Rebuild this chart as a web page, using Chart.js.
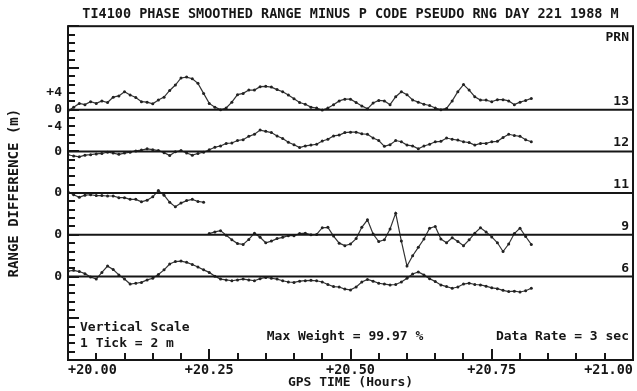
<!DOCTYPE html>
<html>
<head>
<meta charset="utf-8">
<script src="https://cdn.jsdelivr.net/npm/chart.js@4.4.1/dist/chart.umd.min.js"></script>
<style>
  html, body { margin: 0; padding: 0; background: #fff; }
  #wrap { width: 637px; height: 391px; }
</style>
</head>
<body>
<div id="wrap"><canvas id="c" width="637" height="391"></canvas></div>
<script>
// GPS time grid (hours), one reading every 0.01 h
var times = [20.00,20.01,20.02,20.03,20.04,20.05,20.06,20.07,20.08,20.09,
             20.10,20.11,20.12,20.13,20.14,20.15,20.16,20.17,20.18,20.19,
             20.20,20.21,20.22,20.23,20.24,20.25,20.26,20.27,20.28,20.29,
             20.30,20.31,20.32,20.33,20.34,20.35,20.36,20.37,20.38,20.39,
             20.40,20.41,20.42,20.43,20.44,20.45,20.46,20.47,20.48,20.49,
             20.50,20.51,20.52,20.53,20.54,20.55,20.56,20.57,20.58,20.59,
             20.60,20.61,20.62,20.63,20.64,20.65,20.66,20.67,20.68,20.69,
             20.70,20.71,20.72,20.73,20.74,20.75,20.76,20.77,20.78,20.79,
             20.80,20.81,20.82];

// range difference (m) per satellite, relative to its own zero line
var prn13 = [-0.3, 0.6, 1.5, 1.2, 1.9, 1.5, 2.1, 1.7, 3.0, 3.3,
              4.3, 3.5, 2.9, 1.9, 1.8, 1.4, 2.3, 3.0, 4.6, 5.9,
              7.6, 7.8, 7.4, 6.3, 3.9, 1.5, 0.6, 0.0, 0.4, 1.8,
              3.6, 3.9, 4.7, 4.7, 5.5, 5.6, 5.4, 4.8, 4.3, 3.5,
              2.6, 1.7, 1.3, 0.6, 0.4, -0.1, 0.4, 1.2, 2.1, 2.5,
              2.5, 1.7, 0.9, 0.2, 1.6, 2.2, 2.1, 1.2, 3.1, 4.3,
              3.6, 2.3, 1.8, 1.3, 1.0, 0.4, 0.0, 0.3, 2.1, 4.3,
              6.0, 4.7, 3.1, 2.3, 2.3, 1.9, 2.4, 2.4, 2.1, 1.2,
              1.8, 2.2, 2.7];
var prn12 = [-0.8, -1.1, -1.3, -0.9, -0.8, -0.6, -0.5, -0.2, -0.4, -0.7,
             -0.4, -0.2, 0.1, 0.3, 0.6, 0.4, 0.2, -0.3, -1.0, -0.1,
              0.2, -0.4, -0.9, -0.5, -0.2, 0.4, 1.0, 1.3, 1.9, 2.0,
              2.6, 2.8, 3.6, 4.1, 5.1, 4.8, 4.5, 3.7, 3.1, 2.2,
              1.6, 0.9, 1.3, 1.5, 1.7, 2.5, 2.9, 3.7, 3.9, 4.5,
              4.6, 4.6, 4.2, 4.1, 3.2, 2.6, 1.2, 1.6, 2.6, 2.3,
              1.5, 1.3, 0.6, 1.3, 1.7, 2.3, 2.4, 3.2, 2.9, 2.7,
              2.3, 2.1, 1.5, 1.9, 1.9, 2.3, 2.4, 3.3, 4.1, 3.8,
              3.6, 2.8, 2.3];
// PRN 11 tracked 20.00 - 20.24 only
var prn11 = [0.3, -0.4, -1.0, -0.5, -0.4, -0.6, -0.6, -0.7, -0.7, -1.1,
             -1.1, -1.5, -1.5, -2.1, -1.7, -0.9, 0.6, -0.5, -2.2, -3.3,
             -2.4, -1.8, -1.5, -2.0, -2.2];
// PRN 9 tracked from 20.25 on
var prn9 = [0.3, 0.7, 1.0, -0.1, -1.2, -2.1, -2.3, -1.1, 0.4, -0.6,
            -1.9, -1.5, -0.9, -0.6, -0.2, -0.2, 0.3, 0.4, 0.0, 0.1,
             1.7, 1.8, -0.3, -2.0, -2.6, -2.2, -0.9, 1.8, 3.6, 0.2,
            -1.6, -1.2, 1.4, 5.2, -1.5, -7.5, -5.0, -3.0, -1.0, 1.6,
             2.0, -1.0, -1.9, -0.7, -1.6, -2.6, -1.2, 0.4, 1.7, 0.7,
            -0.5, -1.9, -4.0, -2.2, 0.3, 1.6, -0.4, -2.3];
var prn6 = [1.3, 1.5, 1.2, 0.7, -0.1, -0.6, 1.0, 2.5, 1.7, 0.4,
            -0.6, -1.8, -1.6, -1.4, -0.8, -0.4, 0.5, 1.6, 3.0, 3.6,
             3.7, 3.4, 2.9, 2.3, 1.6, 1.0, 0.1, -0.6, -0.8, -1.0,
            -0.8, -0.6, -0.8, -1.0, -0.5, -0.2, -0.4, -0.6, -1.0, -1.3,
            -1.4, -1.1, -1.0, -0.9, -1.0, -1.3, -1.9, -2.4, -2.5, -3.0,
            -3.2, -2.5, -1.3, -0.7, -1.1, -1.6, -1.8, -2.0, -1.9, -1.3,
            -0.4, 0.6, 1.1, 0.4, -0.5, -1.2, -2.0, -2.4, -2.8, -2.5,
            -1.8, -1.6, -1.9, -2.0, -2.3, -2.7, -2.9, -3.3, -3.6, -3.5,
            -3.7, -3.4, -2.8];

var prnNames = ['13', '12', '11', '9', '6'];
var zeroLines = [60, 50, 40, 30, 20];   // each trace sits on its own zero, 10 m apart

// left axis labels
var yTickValues = [64, 60, 56, 50, 40, 30, 20];
var yTickText = ['+4', '0', '-4', '0', '0', '0', '0'];

var INK = '#161616';
var MONO = '"DejaVu Sans Mono", "Liberation Mono", monospace';

function band(t, vals, base) {
    return vals.map(function (v, i) { return {x: t[i], y: v + base}; });
}

var traces = [
    band(times, prn13, zeroLines[0]),
    band(times, prn12, zeroLines[1]),
    band(times.slice(0, prn11.length), prn11, zeroLines[2]),
    band(times.slice(times.length - prn9.length), prn9, zeroLines[3]),
    band(times, prn6, zeroLines[4])
];

var datasets = [];
zeroLines.forEach(function (z) {
    datasets.push({
        data: [{x: 20, y: z}, {x: 21, y: z}],
        borderColor: INK, borderWidth: 2, pointRadius: 0
    });
});
traces.forEach(function (pts) {
    datasets.push({
        data: pts,
        borderColor: '#333', borderWidth: 1.2,
        pointRadius: 1.5, pointBackgroundColor: '#222', pointBorderWidth: 0
    });
});

function tickMark(ctx, x0, y0, x1, y1) {
    ctx.beginPath();
    ctx.moveTo(x0, y0);
    ctx.lineTo(x1, y1);
    ctx.stroke();
}

// inward ticks, frame, PRN numbers and the notes in the corners
var decor = {
    id: 'decor',
    beforeDraw: function (chart) {
        var ctx = chart.ctx;
        ctx.save();
        ctx.fillStyle = '#fff';
        ctx.fillRect(0, 0, chart.width, chart.height);
        ctx.restore();
    },
    afterDraw: function (chart) {
        var ctx = chart.ctx, a = chart.chartArea;
        var xs = chart.scales.x, ys = chart.scales.y;
        var i, p, L = Math.round(a.left), B = Math.round(a.bottom);
        ctx.save();
        ctx.strokeStyle = INK;
        ctx.lineWidth = 2;
        ctx.lineCap = 'butt';
        // 1 tick = 2 m, longer every 10 m
        for (i = 0; i <= 40; i++) {
            p = Math.round(ys.getPixelForValue(ys.min + i * 2));
            tickMark(ctx, L, p, L + (i % 5 === 0 ? 11 : 7), p);
        }
        // every 0.05 h, longer every quarter hour
        for (i = 0; i <= 20; i++) {
            p = Math.round(xs.getPixelForValue(xs.min + i * 0.05));
            tickMark(ctx, p, B, p, B - (i % 5 === 0 ? 11 : 7));
        }
        ctx.strokeRect(a.left, a.top, a.right - a.left, a.bottom - a.top);

        ctx.fillStyle = INK;
        ctx.font = 'bold 13px ' + MONO;
        ctx.textBaseline = 'middle';
        ctx.textAlign = 'right';
        ctx.fillText('PRN', a.right - 4, a.top + 11);
        prnNames.forEach(function (name, k) {
            ctx.fillText(name, a.right - 4, ys.getPixelForValue(zeroLines[k] + 2));
        });
        ctx.fillText('Data Rate = 3 sec', a.right - 4, a.bottom - 23);
        ctx.textAlign = 'center';
        ctx.fillText('Max Weight = 99.97 %', 345, a.bottom - 23);
        ctx.textAlign = 'left';
        ctx.fillText('Vertical Scale', a.left + 12, a.bottom - 32);
        ctx.fillText('1 Tick = 2 m', a.left + 12, a.bottom - 16);
        ctx.restore();
    }
};

new Chart(document.getElementById('c'), {
    type: 'line',
    data: {datasets: datasets},
    options: {
        responsive: false,
        animation: false,
        devicePixelRatio: 1,
        parsing: false,
        layout: {padding: {top: 4, right: 3, left: 0, bottom: 0}},
        plugins: {
            legend: {display: false},
            tooltip: {enabled: false},
            title: {
                display: true,
                fullSize: false,
                text: 'TI4100 PHASE SMOOTHED RANGE MINUS P CODE PSEUDO RNG DAY 221 1988 M',
                color: INK,
                font: {family: MONO, size: 13.5, weight: 'bold'},
                padding: {top: 2, bottom: 4}
            }
        },
        scales: {
            x: {
                type: 'linear',
                min: 20, max: 21,
                grid: {display: false, drawTicks: false, tickLength: 0},
                border: {display: false},
                afterFit: function (s) { s.height = 31; },
                ticks: {
                    stepSize: 0.25,
                    autoSkip: false,
                    maxRotation: 0,
                    align: 'inner',
                    padding: 2,
                    color: INK,
                    font: {family: MONO, size: 13.5, weight: 'bold'},
                    callback: function (v) { return '+' + v.toFixed(2); }
                },
                title: {
                    display: true,
                    text: 'GPS TIME (Hours)',
                    color: INK,
                    font: {family: MONO, size: 13, weight: 'bold'},
                    padding: {top: 0, bottom: 1}
                }
            },
            y: {
                type: 'linear',
                min: 0, max: 80,
                grid: {display: false, drawTicks: false, tickLength: 0},
                border: {display: false},
                afterFit: function (s) { s.width = 68; },
                afterBuildTicks: function (s) {
                    s.ticks = yTickValues.map(function (v) { return {value: v}; });
                },
                ticks: {
                    autoSkip: false,
                    padding: 6,
                    color: INK,
                    font: {family: MONO, size: 13, weight: 'bold'},
                    callback: function (v) {
                        var k = yTickValues.indexOf(Math.round(v));
                        return k >= 0 ? yTickText[k] : '';
                    }
                },
                title: {
                    display: true,
                    text: 'RANGE DIFFERENCE (m)',
                    color: INK,
                    font: {family: MONO, size: 14, weight: 'bold'},
                    padding: {top: 6, bottom: 0}
                }
            }
        }
    },
    plugins: [decor]
});
</script>
</body>
</html>
